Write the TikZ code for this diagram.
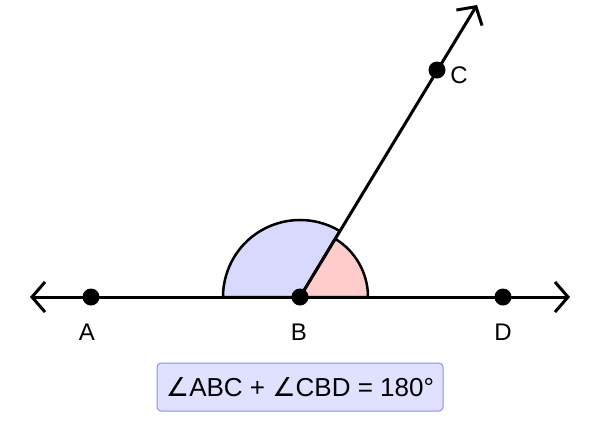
\documentclass[tikz,border=0pt]{standalone}
\usepackage{fontspec}
\setmainfont{Liberation Sans}
\newfontfamily\symfont{DejaVu Sans}
\usetikzlibrary{arrows.meta}
\begin{document}
\begin{tikzpicture}[x=1pt,y=-1pt,
  ln/.style={line width=3pt,-{Straight Barb[length=13pt,width=30pt,line width=3pt]}},
  pt/.style={circle,fill=black,inner sep=0pt,minimum size=17pt},
  lbl/.style={font=\fontsize{24}{26}\selectfont}]
\useasboundingbox (0,0) rectangle (600,437);
\coordinate (B) at (300,297);
\fill[blue!15!white, draw=black, line width=2.5pt] (B) -- ++(-58.9:77) arc[start angle=-58.9,end angle=-180,radius=77] -- cycle;
\fill[red!20!white, draw=black, line width=2.5pt] (B) -- ++(0:68) arc[start angle=0,end angle=-58.9,radius=68] -- cycle;
\coordinate (L) at (30,297);
\coordinate (R) at (570,297);
\coordinate (T) at (477,5);
\draw[ln] (B) -- (L);
\draw[ln] (B) -- (R);
\draw[ln] (B) -- (T);
\node[pt] (a) at (91,297) {};
\node[pt] (b) at (B) {};
\node[pt] (d) at (503,297) {};
\node[pt] (c) at (437,70) {};
\node[lbl] (la) at (87,332) {A};
\node[lbl] (lb) at (299,332) {B};
\node[lbl] (ld) at (503,332) {D};
\node[lbl] (lc) at (459,75) {C};
\node[draw=blue!45,fill=blue!12,rounded corners=4pt,line width=1pt,minimum width=286pt,minimum height=48pt,font=\fontsize{26}{28}\selectfont] (eq) at (300,387) {{\symfont ∠}ABC + {\symfont ∠}CBD = 180°};
\end{tikzpicture}
\end{document}
